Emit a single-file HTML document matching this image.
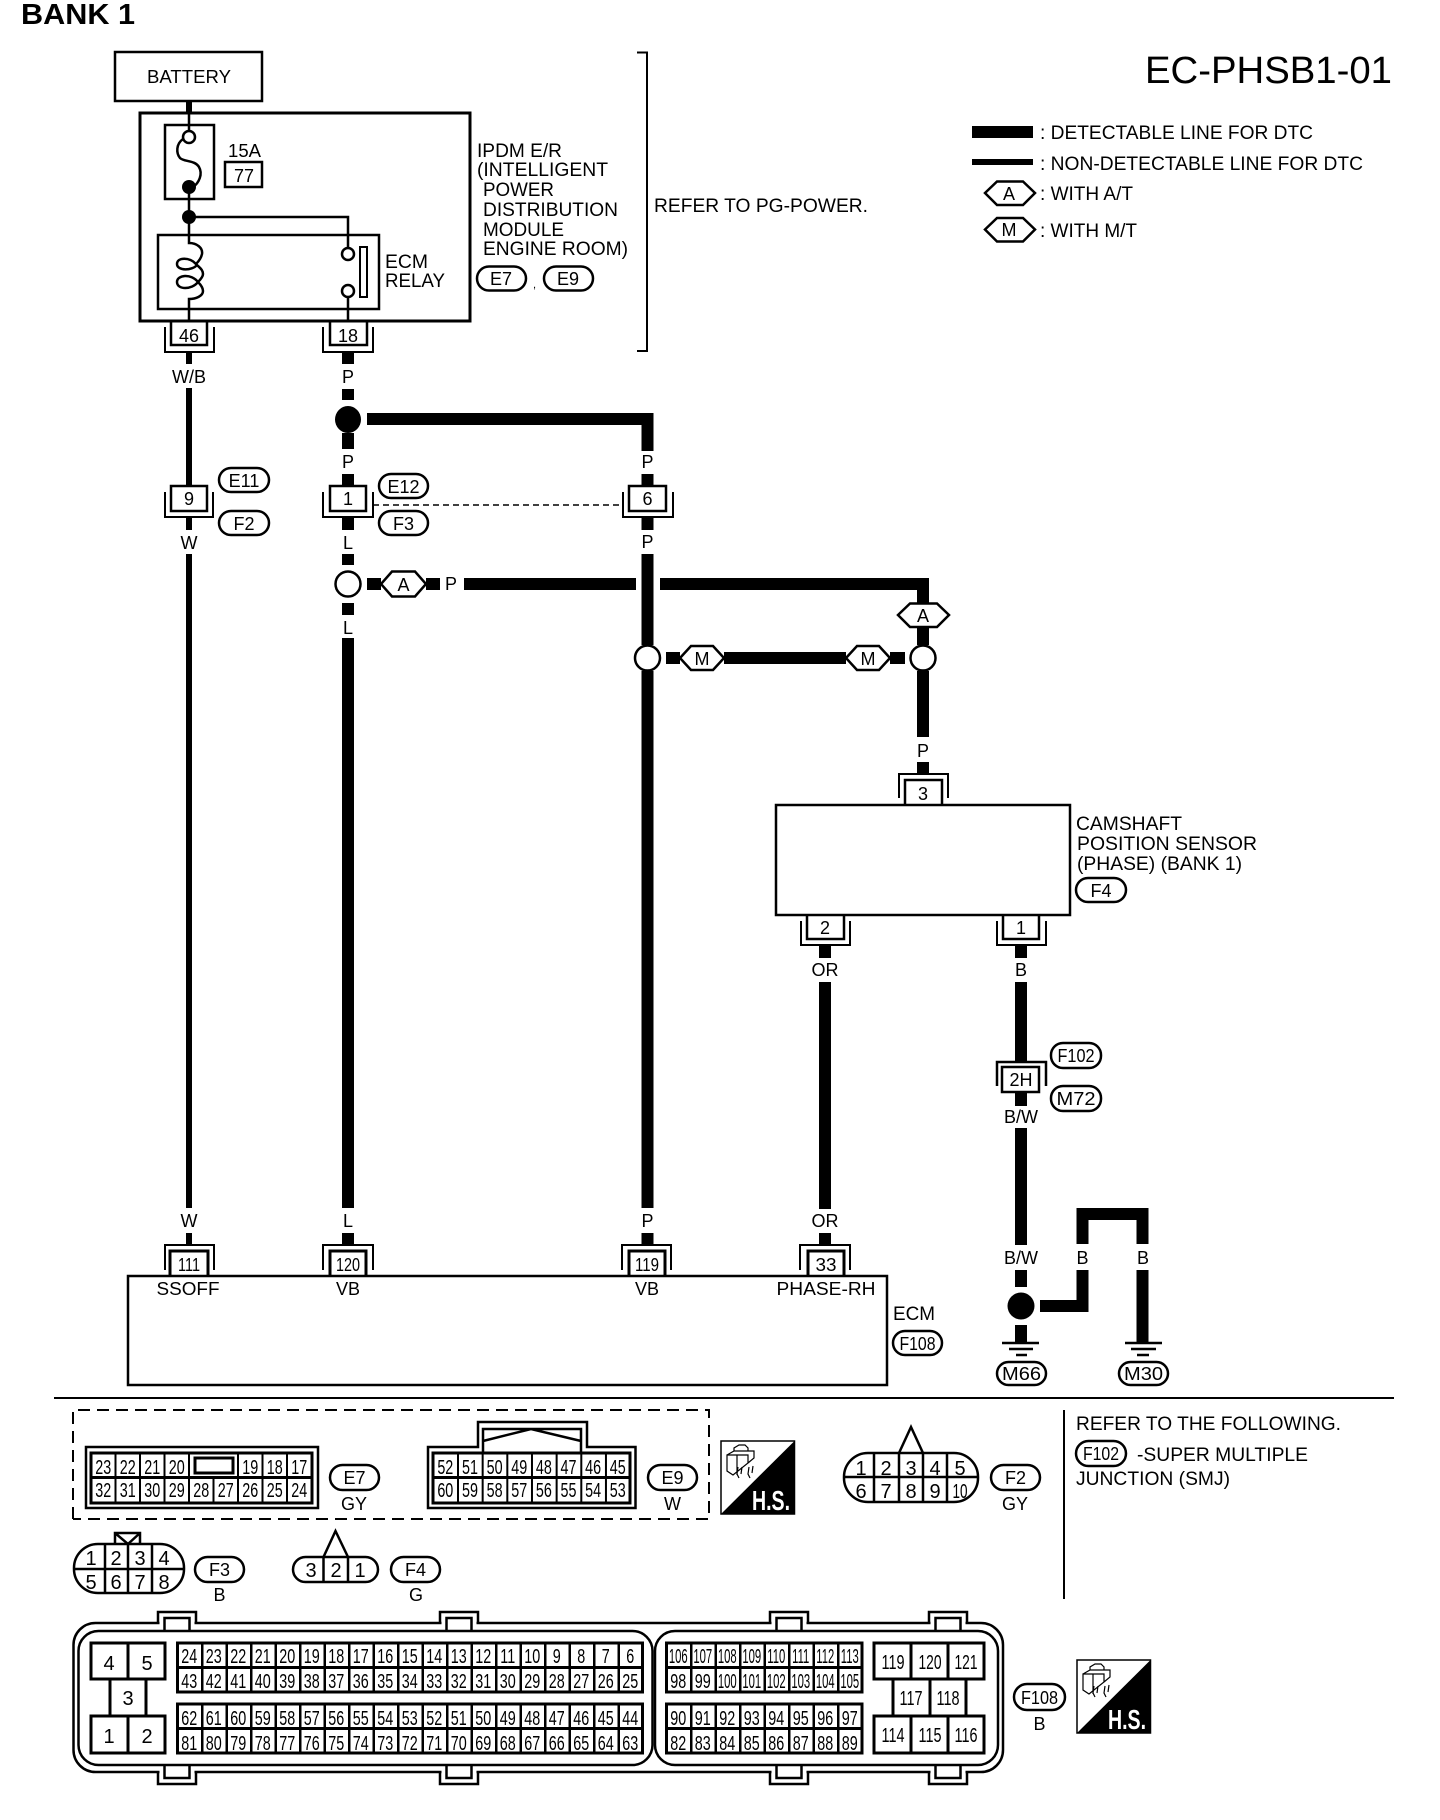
<!DOCTYPE html>
<html><head><meta charset="utf-8"><title>EC-PHSB1-01</title>
<style>
html,body{margin:0;padding:0;background:#fff}
svg{display:block;font-family:"Liberation Sans",sans-serif}
text{fill:#000;font-size:18px}
.m{text-anchor:middle}
.b{font-size:19.5px}
.l{font-size:19px}
.g{font-size:20.5px;text-anchor:middle}
.n{font-size:20px;text-anchor:middle}
.s{fill:none;stroke:#000;stroke-width:2.5}
.s2{fill:none;stroke:#000;stroke-width:2}
.f{fill:#fff;stroke:#000;stroke-width:2.5}
.t{fill:none;stroke:#000;stroke-width:12}
.w{fill:none;stroke:#000;stroke-width:6}
</style></head><body>
<svg width="1440" height="1820" viewBox="0 0 1440 1820" xmlns="http://www.w3.org/2000/svg">
<defs>
<g id="tabT"><path class="s" d="M0 11V0H38V11"/><rect x="1.5" y="8" width="35" height="7" fill="#fff"/><path class="s" d="M6.500 19V6H31.500V19"/></g>
<g id="tabB"><path class="s" d="M0 0V12H38V0"/><rect x="1.500" y="-4" width="35" height="7" fill="#fff"/><path class="s" d="M6.500 -7V6H31.500V-7"/></g>
<g id="hs"><rect x="0" y="0" width="73.500" height="73" fill="#fff" stroke="#000" stroke-width="1.500"/><polygon points="73.500,0 73.500,73 0,73" fill="#000"/>
<path fill="none" stroke="#000" stroke-width="1.200" d="M6 14L13 10H33V17L27 22M6 14H27V22L12 34L6 30ZM16 14V34M13 10L13 7L18 4H24L27 7V10M17 26L16 33L18 37M21 26L20 33M28 26L27 33L29 37M32 25L31 32"/></g>
</defs>
<rect width="1440" height="1820" fill="#fff"/>

<text x="21" y="24" font-weight="bold" style="font-size:29px" textLength="114" lengthAdjust="spacingAndGlyphs">BANK 1</text>
<text x="1145" y="83" style="font-size:38px" textLength="247" lengthAdjust="spacingAndGlyphs">EC-PHSB1-01</text>

<!-- legend -->
<rect x="972" y="126" width="61" height="12"/><rect x="972" y="159" width="61" height="6"/>
<text x="1040" y="139" class="l" textLength="273" lengthAdjust="spacingAndGlyphs">: DETECTABLE LINE FOR DTC</text>
<text x="1040" y="170" class="l" textLength="323" lengthAdjust="spacingAndGlyphs">: NON-DETECTABLE LINE FOR DTC</text>
<text x="1040" y="200" class="l" textLength="93" lengthAdjust="spacingAndGlyphs">: WITH A/T</text>
<text x="1040" y="237" class="l" textLength="97" lengthAdjust="spacingAndGlyphs">: WITH M/T</text>
<polygon class="f" points="985,193 997,181.500 1023,181.500 1035,193 1023,205 997,205"/><text x="1009" y="200" class="m">A</text>
<polygon class="f" points="985,229.500 997,218 1023,218 1035,229.500 1023,241.500 997,241.500"/><text x="1009" y="236" class="m">M</text>

<!-- battery + IPDM -->
<path class="w" d="M189 101V113M189 352V364M189 388V486M189 518V530M189 554V1208M189 1233V1245"/>
<rect x="115" y="52" width="147" height="49" class="s"/>
<text x="189" y="83" class="m" textLength="84" lengthAdjust="spacingAndGlyphs">BATTERY</text>
<rect x="140" y="113" width="330" height="208" class="s" style="stroke-width:3"/>
<rect x="165" y="125" width="49" height="74" class="s"/>
<path class="s" d="M189 113V131M189 187V235M189 217H348V248M348 297V321"/>
<circle cx="189" cy="137" r="6" class="f"/>
<circle cx="189" cy="187" r="7"/>
<circle cx="189" cy="217" r="7"/>
<path class="s" d="M183 139C176 144 176 153 180 158C184 162 195 160 199 167C203 174 199 183 193 187"/>
<text x="228" y="157" textLength="33" lengthAdjust="spacingAndGlyphs">15A</text>
<rect x="225" y="162" width="37" height="25" class="s"/><text x="244" y="182" class="m">77</text>
<rect x="158" y="235" width="221" height="74" class="s"/>
<path class="s" d="M189 235V243C197 243 203 248 202 254C201 259 198 262 196 264C190 257 177 257 177 264C177 271 192 271 197 265C200 268 203 270 203 274C203 277 200 280 198 282C191 273 177 275 177 282C177 290 192 290 198 282C201 285 203 288 203 291C203 296 196 299 189 299V321"/>
<circle cx="348" cy="254" r="6" class="f"/><circle cx="348" cy="291" r="6" class="f"/>
<rect x="360" y="247" width="7" height="50" class="s2"/>
<text x="385" y="268" class="b" textLength="43" lengthAdjust="spacingAndGlyphs">ECM</text>
<text x="385" y="287" class="b" textLength="60" lengthAdjust="spacingAndGlyphs">RELAY</text>
<text x="477" y="157" class="b" textLength="85" lengthAdjust="spacingAndGlyphs">IPDM E/R</text>
<text x="477" y="176" class="b" textLength="131" lengthAdjust="spacingAndGlyphs">(INTELLIGENT</text>
<text x="483" y="196" class="b" textLength="71" lengthAdjust="spacingAndGlyphs">POWER</text>
<text x="483" y="216" class="b" textLength="135" lengthAdjust="spacingAndGlyphs">DISTRIBUTION</text>
<text x="483" y="236" class="b" textLength="81" lengthAdjust="spacingAndGlyphs">MODULE</text>
<text x="483" y="255" class="b" textLength="145" lengthAdjust="spacingAndGlyphs">ENGINE ROOM)</text>
<rect x="477" y="266.500" width="49" height="24" rx="12" class="s"/><text x="501" y="285" class="m">E7</text>
<text x="533" y="288" style="font-size:11px">,</text>
<rect x="544" y="266.500" width="49" height="24" rx="12" class="s"/><text x="568" y="285" class="m">E9</text>
<path class="s2" d="M637 52.500H647V351H637"/>
<text x="654" y="212" class="l" textLength="214" lengthAdjust="spacingAndGlyphs">REFER TO PG-POWER.</text>

<!-- connectors top -->
<path class="s" d="M171 321V345H207V321M330 321V345H367V321"/>
<path class="s2" d="M165 327V352H214V327M323 327V352H373V327"/>
<text x="189" y="342" class="m">46</text><text x="348" y="342" class="m">18</text>
<text x="189" y="383" class="m">W/B</text>

<!-- heavy wires -->
<path class="t" d="M348 352V364M348 389V400M348 433V449M348 474V486M348 518V530M348 554V565M348 603V615M348 638V1208M348 1233V1245"/>
<path class="t" d="M367 419H647.500V451M647.500 474V486M647.500 518V530M647.500 554V645M647.500 671V1208M647.500 1233V1245"/>
<path class="t" d="M367 584H381M426 584H440M464 584H636M660 584H923V603M923 627V645M923 671V737M923 762V774"/>
<path class="t" d="M666 658H680M724 658H846M890 658H905"/>
<path class="t" d="M825 946V958M825 982V1209M825 1233V1245"/>
<path class="t" d="M1021 946V958M1021 982V1061M1021 1092V1106M1021 1128V1245M1021 1270V1287M1021 1325V1343"/>
<path class="t" d="M1040 1306H1082.500V1270M1082.500 1244V1214H1142.500V1244M1142.500 1270V1343"/>

<ellipse cx="348" cy="419.500" rx="13" ry="13.500"/>
<circle cx="348" cy="584" r="12.500" class="f"/>
<circle cx="647.500" cy="658" r="12.500" class="f"/>
<circle cx="923" cy="658" r="12.500" class="f"/>
<circle cx="1021" cy="1306" r="13.500"/>

<!-- wire labels -->
<text x="348" y="383" class="m">P</text>
<text x="348" y="468" class="m">P</text>
<text x="647.500" y="468" class="m">P</text>
<text x="189" y="549" class="m">W</text>
<text x="348" y="549" class="m">L</text>
<text x="647.500" y="548" class="m">P</text>
<text x="348" y="634" class="m">L</text>
<text x="451" y="590" class="m">P</text>
<text x="923" y="757" class="m">P</text>
<text x="189" y="1227" class="m">W</text>
<text x="348" y="1227" class="m">L</text>
<text x="647.500" y="1227" class="m">P</text>
<text x="825" y="1227" class="m">OR</text>
<text x="825" y="976" class="m">OR</text>
<text x="1021" y="976" class="m">B</text>
<text x="1021" y="1123" class="m">B/W</text>
<text x="1021" y="1264" class="m">B/W</text>
<text x="1082.500" y="1264" class="m">B</text>
<text x="1143" y="1264" class="m">B</text>

<!-- mid connectors -->
<rect x="171" y="486" width="36" height="25" class="s"/><text x="189" y="505" class="m">9</text>
<path class="s2" d="M165 492V517H213V492"/>
<rect x="330" y="486" width="36" height="25" class="s"/><text x="348" y="505" class="m">1</text>
<path class="s2" d="M323 492V517H373V492"/>
<rect x="629" y="486" width="37" height="25" class="s"/><text x="647.500" y="505" class="m">6</text>
<path class="s2" d="M623 492V517H673V492"/>
<path fill="none" stroke="#000" stroke-width="1.500" stroke-dasharray="6 4" d="M373 505H623"/>
<rect x="219" y="468" width="50" height="24" rx="12" class="s"/><text x="244" y="487" class="m">E11</text>
<rect x="219" y="511" width="50" height="24" rx="12" class="s"/><text x="244" y="530" class="m">F2</text>
<rect x="379" y="474" width="49" height="24" rx="12" class="s"/><text x="403.500" y="493" class="m">E12</text>
<rect x="379" y="511" width="49" height="24" rx="12" class="s"/><text x="403.500" y="530" class="m">F3</text>

<!-- hexes -->
<polygon class="f" points="381,584 392,571.500 415,571.500 426,584 415,596.500 392,596.500"/><text x="403.500" y="591" class="m">A</text>
<polygon class="f" points="898,615 910,603.500 937,603.500 949,615 937,627 910,627"/><text x="923" y="622" class="m">A</text>
<polygon class="f" points="680,658 691,646 713,646 724,658 713,670 691,670"/><text x="702" y="665" class="m">M</text>
<polygon class="f" points="846,658 857,646 879,646 890,658 879,670 857,670"/><text x="868" y="665" class="m">M</text>

<!-- sensor -->
<path class="s2" d="M899 798V774H948V798"/>
<path class="s" d="M905 805V780H942V805"/>
<text x="923" y="800" class="m">3</text>
<rect x="776" y="805" width="294" height="110" class="s"/>
<path class="s" d="M807 915V939H844V915M1003 915V939H1039V915"/>
<path class="s2" d="M801 921V945H850V921M997 921V945H1046V921"/>
<text x="825" y="934" class="m">2</text><text x="1021" y="934" class="m">1</text>
<text x="1076" y="830" class="b" textLength="106" lengthAdjust="spacingAndGlyphs">CAMSHAFT</text>
<text x="1077" y="850" class="b" textLength="180" lengthAdjust="spacingAndGlyphs">POSITION SENSOR</text>
<text x="1077" y="870" class="b" textLength="165" lengthAdjust="spacingAndGlyphs">(PHASE) (BANK 1)</text>
<rect x="1076" y="878" width="50" height="24" rx="12" class="s"/><text x="1101" y="897" class="m">F4</text>

<!-- 2H -->
<path class="s" d="M997 1086V1062H1046V1086"/>
<rect x="1002" y="1067" width="37" height="25" class="s"/><text x="1021" y="1086" class="m">2H</text>
<rect x="1051" y="1043" width="50" height="25" rx="12" class="s"/><text x="1076" y="1062" class="m" textLength="37" lengthAdjust="spacingAndGlyphs">F102</text>
<rect x="1051" y="1086" width="50" height="25" rx="12" class="s"/><text x="1076" y="1105" class="m" textLength="39" lengthAdjust="spacingAndGlyphs">M72</text>

<!-- ground -->
<path class="s" stroke-width="2" d="M1002 1343H1039M1009 1349H1033M1016 1355H1027M1125 1343H1162M1131 1349H1156M1137 1355H1149"/>
<rect x="997" y="1362" width="49" height="23" rx="11.500" class="s"/><text x="1021.500" y="1380" class="m" textLength="39" lengthAdjust="spacingAndGlyphs">M66</text>
<rect x="1119" y="1362" width="49" height="23" rx="11.500" class="s"/><text x="1143.500" y="1380" class="m" textLength="39" lengthAdjust="spacingAndGlyphs">M30</text>

<!-- ECM -->
<path class="s2" d="M165 1270V1245H214V1270M323 1270V1245H373V1270M622 1270V1245H671V1270M800 1270V1245H850V1270"/>
<path class="s" style="stroke-width:3" d="M170 1276V1251H208V1276M330 1276V1251H366V1276M629 1276V1251H665V1276M808 1276V1251H844V1276"/>
<text x="189" y="1271" class="m" textLength="22" lengthAdjust="spacingAndGlyphs">111</text>
<text x="348" y="1271" class="m" textLength="24" lengthAdjust="spacingAndGlyphs">120</text>
<text x="647" y="1271" class="m" textLength="24" lengthAdjust="spacingAndGlyphs">119</text>
<text x="826" y="1271" class="m" textLength="21" lengthAdjust="spacingAndGlyphs">33</text>
<rect x="128" y="1276" width="759" height="109" class="s"/>
<text x="188" y="1295" class="m" textLength="63" lengthAdjust="spacingAndGlyphs">SSOFF</text>
<text x="348" y="1295" class="m">VB</text><text x="647" y="1295" class="m">VB</text>
<text x="826" y="1295" class="m" textLength="99" lengthAdjust="spacingAndGlyphs">PHASE-RH</text>
<text x="893" y="1320" class="b" textLength="42" lengthAdjust="spacingAndGlyphs">ECM</text>
<rect x="893" y="1331" width="49" height="24" rx="12" class="s"/><text x="917.500" y="1350" class="m" textLength="36" lengthAdjust="spacingAndGlyphs">F108</text>

<!-- divider -->
<path class="s2" d="M54 1398H1394M1064 1410V1599"/>
<path fill="none" stroke="#000" stroke-width="2" stroke-dasharray="12 7" d="M73 1519V1410H709V1519H73"/>

<!-- E7 -->
<rect x="86" y="1447" width="232" height="61" class="s"/>
<rect x="91" y="1453" width="221" height="50" class="s" style="stroke-width:3"/>
<path class="s" style="stroke-width:3" d="M91 1477.500H312"/>
<path class="s2" d="M115.500 1453V1503M140 1453V1503M164.500 1453V1503M189 1453V1503M238 1453V1503M262.500 1453V1503M287 1453V1503M213.500 1478V1503"/>
<rect x="195" y="1458" width="38" height="15" class="s" style="stroke-width:3"/>
<g transform="translate(91,0) scale(.7,1)">
<text class="g" y="1474"><tspan x="17.5">23</tspan><tspan x="52.5">22</tspan><tspan x="87.5">21</tspan><tspan x="122.500">20</tspan><tspan x="227.500">19</tspan><tspan x="262.500">18</tspan><tspan x="297.500">17</tspan></text>
<text class="g" y="1497"><tspan x="17.5">32</tspan><tspan x="52.5">31</tspan><tspan x="87.5">30</tspan><tspan x="122.500">29</tspan><tspan x="157.500">28</tspan><tspan x="192.500">27</tspan><tspan x="227.500">26</tspan><tspan x="262.500">25</tspan><tspan x="297.500">24</tspan></text>
</g>
<rect x="330" y="1465" width="49" height="25" rx="12.500" class="s"/><text x="354.500" y="1484" class="m">E7</text>
<text x="354" y="1510" class="m">GY</text>

<!-- E9 -->
<path class="s" d="M428 1447H478V1422H587V1447H635.500V1508H428Z"/>
<rect x="433" y="1453" width="197" height="50" class="s" style="stroke-width:3"/>
<path class="s" d="M483 1453V1429H581V1453M483 1441L531 1429L581 1441"/>
<path class="s" style="stroke-width:3" d="M433 1477.500H630"/>
<line x1="457" y1="1478" x2="607" y2="1478" stroke="#000" stroke-width="50" stroke-dasharray="2 22.66"/>
<g transform="translate(433,0) scale(.7,1)">
<text class="g" y="1474"><tspan x="17.6">52</tspan><tspan x="52.8">51</tspan><tspan x="88">50</tspan><tspan x="123.2">49</tspan><tspan x="158.4">48</tspan><tspan x="193.6">47</tspan><tspan x="228.8">46</tspan><tspan x="264">45</tspan></text>
<text class="g" y="1497"><tspan x="17.6">60</tspan><tspan x="52.8">59</tspan><tspan x="88">58</tspan><tspan x="123.2">57</tspan><tspan x="158.4">56</tspan><tspan x="193.6">55</tspan><tspan x="228.8">54</tspan><tspan x="264">53</tspan></text>
</g>
<rect x="648" y="1465" width="49" height="25" rx="12.500" class="s"/><text x="672.500" y="1484" class="m">E9</text>
<text x="672.500" y="1510" class="m">W</text>

<!-- HS 1 -->
<use href="#hs" x="721" y="1441"/>
<text x="752" y="1510" font-weight="bold" style="fill:#fff;font-size:28px" textLength="38" lengthAdjust="spacingAndGlyphs">H.S.</text>

<!-- F2 -->
<path class="s" d="M899 1453L911 1427L923 1453"/>
<rect x="844" y="1453" width="134" height="49" rx="24" class="s"/>
<path class="s" d="M844 1477H978M874 1453V1502M899 1453V1502M923 1453V1502M947 1453V1502"/>
<text class="n" y="1475"><tspan x="861">1</tspan><tspan x="886">2</tspan><tspan x="911">3</tspan><tspan x="935">4</tspan><tspan x="960">5</tspan></text>
<text class="n" y="1498"><tspan x="861">6</tspan><tspan x="886">7</tspan><tspan x="911">8</tspan><tspan x="935">9</tspan></text>
<text x="960" y="1498" class="n" textLength="15" lengthAdjust="spacingAndGlyphs">10</text>
<rect x="991" y="1465" width="49" height="25" rx="12.500" class="s"/><text x="1015.500" y="1484" class="m">F2</text>
<text x="1015" y="1510" class="m">GY</text>

<!-- refer -->
<text x="1076" y="1430" class="l" textLength="265" lengthAdjust="spacingAndGlyphs">REFER TO THE FOLLOWING.</text>
<rect x="1076" y="1441" width="50" height="25" rx="12.500" class="s"/><text x="1101" y="1460" class="m" textLength="36" lengthAdjust="spacingAndGlyphs">F102</text>
<text x="1137" y="1461" class="l" textLength="171" lengthAdjust="spacingAndGlyphs">-SUPER MULTIPLE</text>
<text x="1076" y="1485" class="l" textLength="154" lengthAdjust="spacingAndGlyphs">JUNCTION (SMJ)</text>

<!-- F3 -->
<path class="s" d="M115 1544V1533H140V1544M115 1533L128 1544L140 1533"/>
<rect x="74" y="1544" width="110" height="49" rx="24" class="s"/>
<path class="s" d="M74 1569H184M105 1544V1593M128 1544V1593M152 1544V1593"/>
<text class="n" y="1565"><tspan x="91">1</tspan><tspan x="116">2</tspan><tspan x="140">3</tspan><tspan x="164">4</tspan></text>
<text class="n" y="1589"><tspan x="91">5</tspan><tspan x="116">6</tspan><tspan x="140">7</tspan><tspan x="164">8</tspan></text>
<rect x="195" y="1557" width="49" height="25" rx="12.500" class="s"/><text x="219.500" y="1576" class="m">F3</text>
<text x="219.500" y="1601" class="m">B</text>

<!-- F4 -->
<path class="s" d="M323.500 1557L335.500 1531L348 1557"/>
<rect x="293" y="1557" width="85" height="25" rx="12.500" class="s"/>
<path class="s" d="M323.500 1557V1582M348 1557V1582"/>
<text class="n" y="1577"><tspan x="311">3</tspan><tspan x="336">2</tspan><tspan x="360">1</tspan></text>
<rect x="391" y="1557" width="49" height="25" rx="12.500" class="s"/><text x="415.500" y="1576" class="m">F4</text>
<text x="416" y="1601" class="m">G</text>

<!-- F108 connector -->
<rect x="73.500" y="1623" width="929.500" height="149" rx="22" class="s"/>
<rect x="78.500" y="1631" width="574" height="134" rx="20" class="s"/>
<rect x="655" y="1631" width="343" height="134" rx="20" class="s"/>
<use href="#tabT" x="158" y="1612"/><use href="#tabT" x="440" y="1612"/><use href="#tabT" x="770" y="1612"/><use href="#tabT" x="929" y="1612"/>
<use href="#tabB" x="158" y="1772"/><use href="#tabB" x="440" y="1772"/><use href="#tabB" x="770" y="1772"/><use href="#tabB" x="929" y="1772"/>

<!-- left block -->
<path fill="none" stroke="#000" stroke-width="3" d="M91 1643H165V1679H91ZM128 1643V1679M110 1679V1716M146 1679V1716M91 1716H165V1753H91ZM128 1716V1753"/>
<text class="n" y="1670"><tspan x="109">4</tspan><tspan x="147">5</tspan></text>
<text class="n" x="128" y="1705">3</text>
<text class="n" y="1743"><tspan x="109">1</tspan><tspan x="147">2</tspan></text>

<!-- grids A/B -->
<g fill="none" stroke="#000" stroke-width="3">
<rect x="177.500" y="1643" width="465" height="49"/><rect x="177.500" y="1704" width="465" height="49"/>
<path d="M177 1667.500H642M177 1728.500H642"/>
<rect x="666.500" y="1643" width="195.500" height="49"/><rect x="666.500" y="1704" width="195.500" height="49"/>
<path d="M666 1667.500H862M666 1728.500H862"/>
</g>
<g stroke="#000" stroke-width="49" stroke-dasharray="2.500 22" fill="none">
<path d="M201 1667.500H642M201 1728.500H642M690 1667.500H862M690 1728.500H845"/>
</g>
<g transform="translate(177,0) scale(.7,1)">
<text class="g" y="1663"><tspan x="17.5">24</tspan><tspan x="52.5">23</tspan><tspan x="87.5">22</tspan><tspan x="122.5">21</tspan><tspan x="157.5">20</tspan><tspan x="192.5">19</tspan><tspan x="227.5">18</tspan><tspan x="262.5">17</tspan><tspan x="297.5">16</tspan><tspan x="332.5">15</tspan><tspan x="367.5">14</tspan><tspan x="402.5">13</tspan><tspan x="437.5">12</tspan><tspan x="472.5">11</tspan><tspan x="507.5">10</tspan><tspan x="542.5">9</tspan><tspan x="577.5">8</tspan><tspan x="612.5">7</tspan><tspan x="647.5">6</tspan></text>
<text class="g" y="1688"><tspan x="17.5">43</tspan><tspan x="52.5">42</tspan><tspan x="87.5">41</tspan><tspan x="122.5">40</tspan><tspan x="157.5">39</tspan><tspan x="192.5">38</tspan><tspan x="227.5">37</tspan><tspan x="262.5">36</tspan><tspan x="297.5">35</tspan><tspan x="332.5">34</tspan><tspan x="367.5">33</tspan><tspan x="402.5">32</tspan><tspan x="437.5">31</tspan><tspan x="472.5">30</tspan><tspan x="507.5">29</tspan><tspan x="542.5">28</tspan><tspan x="577.5">27</tspan><tspan x="612.5">26</tspan><tspan x="647.5">25</tspan></text>
<text class="g" y="1725"><tspan x="17.5">62</tspan><tspan x="52.5">61</tspan><tspan x="87.5">60</tspan><tspan x="122.5">59</tspan><tspan x="157.5">58</tspan><tspan x="192.5">57</tspan><tspan x="227.5">56</tspan><tspan x="262.5">55</tspan><tspan x="297.5">54</tspan><tspan x="332.5">53</tspan><tspan x="367.5">52</tspan><tspan x="402.5">51</tspan><tspan x="437.5">50</tspan><tspan x="472.5">49</tspan><tspan x="507.5">48</tspan><tspan x="542.5">47</tspan><tspan x="577.5">46</tspan><tspan x="612.5">45</tspan><tspan x="647.5">44</tspan></text>
<text class="g" y="1750"><tspan x="17.5">81</tspan><tspan x="52.5">80</tspan><tspan x="87.5">79</tspan><tspan x="122.5">78</tspan><tspan x="157.5">77</tspan><tspan x="192.5">76</tspan><tspan x="227.5">75</tspan><tspan x="262.5">74</tspan><tspan x="297.5">73</tspan><tspan x="332.5">72</tspan><tspan x="367.5">71</tspan><tspan x="402.5">70</tspan><tspan x="437.5">69</tspan><tspan x="472.5">68</tspan><tspan x="507.5">67</tspan><tspan x="542.5">66</tspan><tspan x="577.5">65</tspan><tspan x="612.5">64</tspan><tspan x="647.5">63</tspan></text>
</g>
<!-- grids C/D -->
<g transform="translate(666,0) scale(.55,1)">
<text class="g" y="1663"><tspan x="22.3">106</tspan><tspan x="66.8">107</tspan><tspan x="111.4">108</tspan><tspan x="155.9">109</tspan><tspan x="200.5">110</tspan><tspan x="245">111</tspan><tspan x="289.6">112</tspan><tspan x="334.1">113</tspan></text>
<text class="g" y="1688"><tspan x="111.4">100</tspan><tspan x="155.9">101</tspan><tspan x="200.5">102</tspan><tspan x="245">103</tspan><tspan x="289.6">104</tspan><tspan x="334.1">105</tspan></text>
</g>
<g transform="translate(666,0) scale(.7,1)">
<text class="g" y="1688"><tspan x="17.5">98</tspan><tspan x="52.5">99</tspan></text>
<text class="g" y="1725"><tspan x="17.5">90</tspan><tspan x="52.5">91</tspan><tspan x="87.5">92</tspan><tspan x="122.5">93</tspan><tspan x="157.5">94</tspan><tspan x="192.5">95</tspan><tspan x="227.5">96</tspan><tspan x="262.5">97</tspan></text>
<text class="g" y="1750"><tspan x="17.5">82</tspan><tspan x="52.5">83</tspan><tspan x="87.5">84</tspan><tspan x="122.5">85</tspan><tspan x="157.5">86</tspan><tspan x="192.5">87</tspan><tspan x="227.5">88</tspan><tspan x="262.5">89</tspan></text>
</g>
<!-- right block -->
<path fill="none" stroke="#000" stroke-width="3" d="M874 1643H984V1679H874ZM911 1643V1679M948 1643V1679M893 1679V1716M930 1679V1716M966 1679V1716M874 1716H984V1753H874ZM911 1716V1753M948 1716V1753"/>
<text x="893" y="1669" class="n" textLength="23" lengthAdjust="spacingAndGlyphs">119</text>
<text x="930" y="1669" class="n" textLength="23" lengthAdjust="spacingAndGlyphs">120</text>
<text x="966" y="1669" class="n" textLength="23" lengthAdjust="spacingAndGlyphs">121</text>
<text x="911" y="1705" class="n" textLength="23" lengthAdjust="spacingAndGlyphs">117</text>
<text x="948" y="1705" class="n" textLength="23" lengthAdjust="spacingAndGlyphs">118</text>
<text x="893" y="1742" class="n" textLength="23" lengthAdjust="spacingAndGlyphs">114</text>
<text x="930" y="1742" class="n" textLength="23" lengthAdjust="spacingAndGlyphs">115</text>
<text x="966" y="1742" class="n" textLength="23" lengthAdjust="spacingAndGlyphs">116</text>
<rect x="1014" y="1684" width="51" height="26" rx="13" class="s"/><text x="1039.500" y="1704" class="m" textLength="37" lengthAdjust="spacingAndGlyphs">F108</text>
<text x="1039.500" y="1730" class="m">B</text>
<use href="#hs" x="1077" y="1660"/>
<text x="1108" y="1729" font-weight="bold" style="fill:#fff;font-size:28px" textLength="38" lengthAdjust="spacingAndGlyphs">H.S.</text>
</svg>
</body></html>
